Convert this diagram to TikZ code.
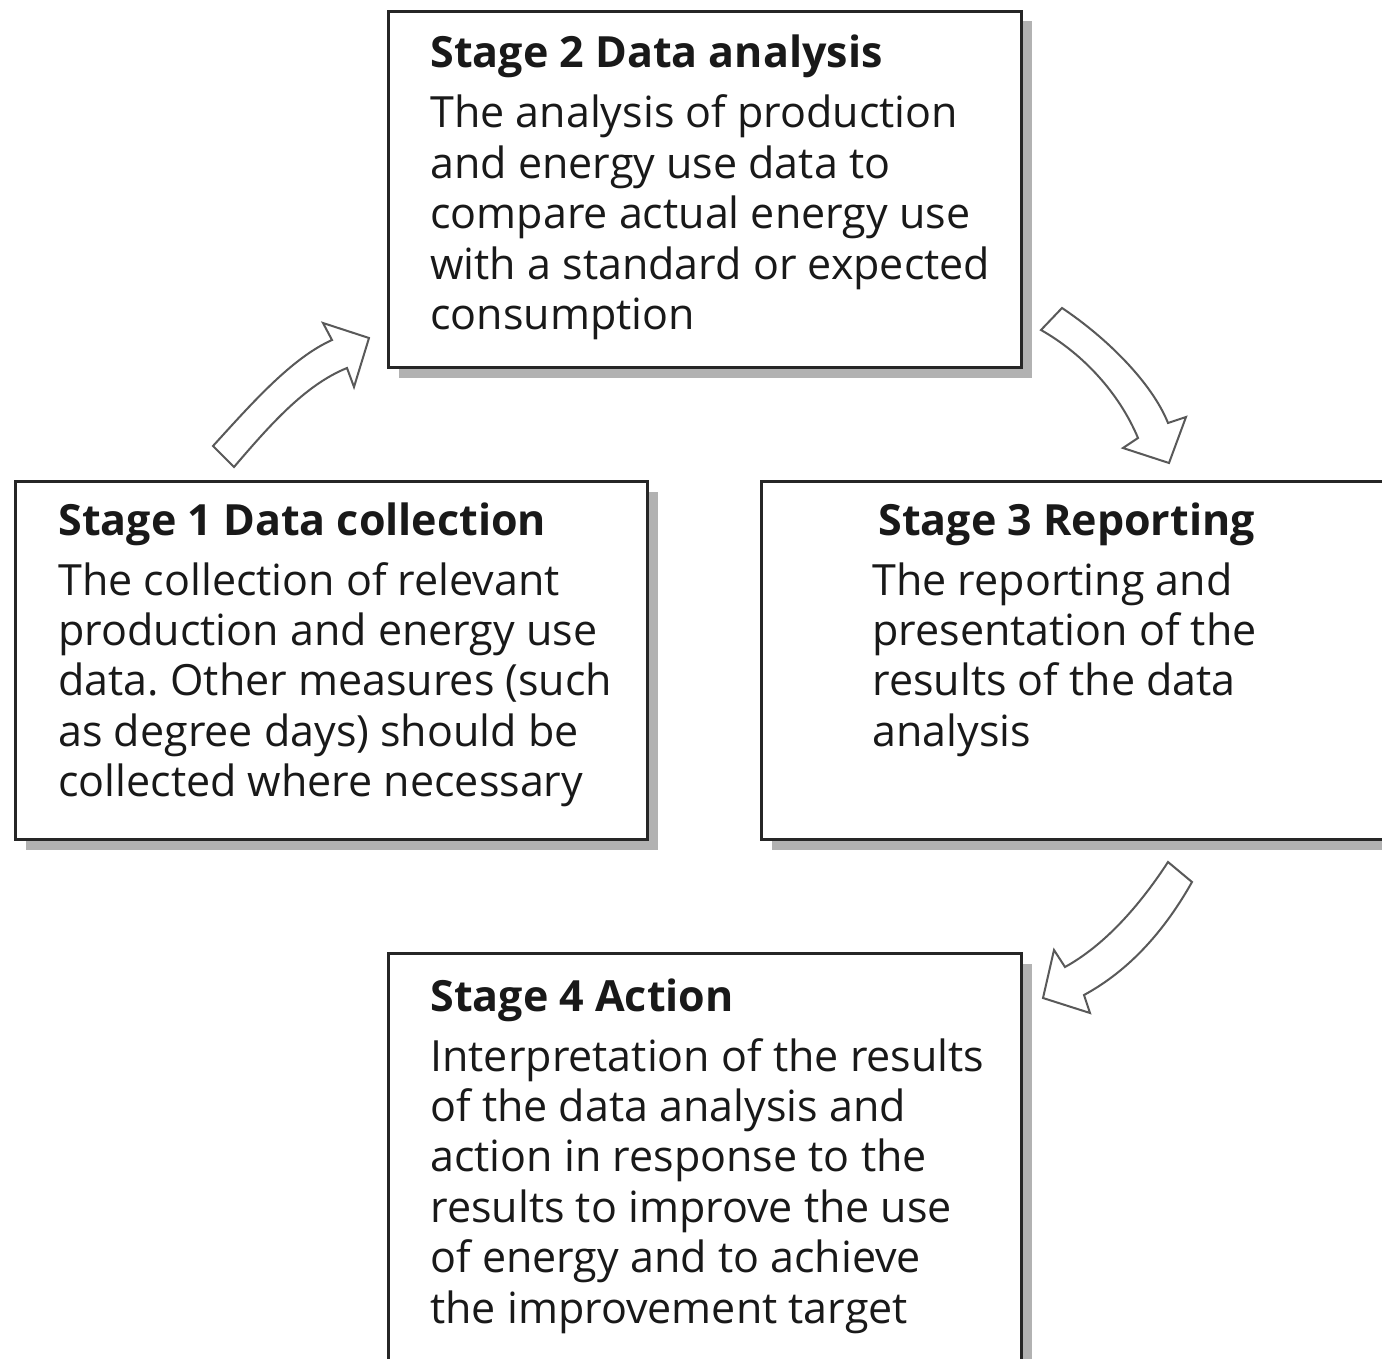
\documentclass[tikz,border=0pt]{standalone}
\usepackage{fontspec}
\setmainfont{Open Sans}
\usetikzlibrary{shadows}
\frenchspacing
\begin{document}
\begin{tikzpicture}[x=0.5pt,y=-0.5pt,
  stagebox/.style={draw=black!85, line width=1.5pt, fill=white, inner sep=0pt, anchor=north west,
    drop shadow={shadow xshift=5pt, shadow yshift=-5pt, fill=black!30, opacity=1}},
  txt/.style={inner sep=0pt, anchor=base west, font=\fontsize{21.5pt}{25.2pt}\selectfont, text=black!90},
  blockarrow/.style={draw=black!65, line width=1pt, fill=white, line join=miter}]
\useasboundingbox (0,0) rectangle (1382,1359);
\clip (0,0) rectangle (1382,1359);
\fill[white] (0,0) rectangle (1382,1359);

% boxes
\node[stagebox, minimum width=316.5pt, minimum height=178pt] (s2) at (387,10) {};
\node[stagebox, minimum width=316pt, minimum height=179pt] (s1) at (14,480) {};
\node[stagebox, minimum width=320pt, minimum height=179pt] (s3) at (760,480) {};
\node[stagebox, minimum width=316.5pt, minimum height=224pt] (s4) at (387,952) {};

% texts
\node[txt] (t2) at (430,68) {\parbox[t]{16cm}{\raggedright
\textbf{Stage 2 Data analysis}\\[4.8pt]
The analysis of production\\
and energy use data to\\
compare actual energy use\\
with a standard or expected\\
consumption}};
\node[txt] (t1) at (58,535) {\parbox[t]{16cm}{\raggedright
\textbf{Stage 1 Data collection}\\[4.8pt]
The collection of relevant\\
production and energy use\\
data. Other measures (such\\
as degree days) should be\\
collected where necessary}};
\node[txt] (t3) at (872,535) {\parbox[t]{16cm}{\raggedright
\hspace*{3pt}\textbf{Stage 3 Reporting}\\[4.8pt]
The reporting and\\
presentation of the\\
results of the data\\
analysis}};
\node[txt] (t4) at (430,1011) {\parbox[t]{16cm}{\raggedright
\textbf{Stage 4 Action}\\[4.8pt]
Interpretation of the results\\
of the data analysis and\\
action in response to the\\
results to improve the use\\
of energy and to achieve\\
the improvement target}};

% block arrows
\draw[blockarrow] (213,446) .. controls (253,402) and (292,358) .. (332,340)
  -- (323,323) -- (369,338) -- (354,387) -- (347,368)
  .. controls (305,385) and (270,425) .. (234,467) -- cycle;
\draw[blockarrow] (1062,308) .. controls (1107,338) and (1152,383) .. (1168,423)
  -- (1186,417) -- (1169,463) -- (1123,448) -- (1138,438)
  .. controls (1120,395) and (1085,355) .. (1041,330) -- cycle;
\draw[blockarrow] (1168,862) .. controls (1140,905) and (1105,945) .. (1065,967)
  -- (1054,950) -- (1043,998) -- (1090,1013) -- (1084,995)
  .. controls (1130,970) and (1165,930) .. (1192,882) -- cycle;
\end{tikzpicture}
\end{document}
